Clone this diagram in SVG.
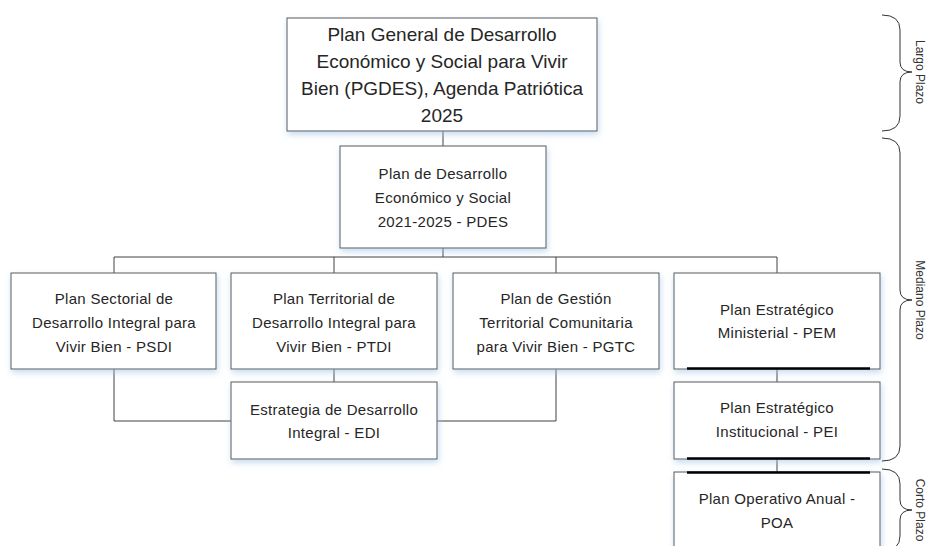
<svg xmlns="http://www.w3.org/2000/svg" width="929" height="546" viewBox="0 0 929 546">
<defs>
<filter id="glow" x="-10%" y="-10%" width="120%" height="125%">
<feDropShadow dx="1" dy="3" stdDeviation="3" flood-color="#9dc3e6" flood-opacity="0.6"/>
</filter>
<style>
.box{fill:#fff;stroke:#595959;stroke-width:1;filter:url(#glow)}
.t{font-family:"Liberation Sans",Arial,sans-serif;fill:#262626;text-anchor:middle}
.big{font-size:19px}
.sm{font-size:15px;letter-spacing:0.3px}
.con{fill:none;stroke:#404040;stroke-width:1}
.thick{stroke:#000;stroke-width:2.5}
.brace{fill:none;stroke:#333;stroke-width:1}
.lab{font-family:"Liberation Sans",Arial,sans-serif;font-size:12px;fill:#333;text-anchor:middle}
</style>
</defs>
<rect width="929" height="546" fill="#fff"/>
<g id="connectors">
<path class="con" d="M443 131V146"/>
<path class="con" d="M443 248V257M114 257H777M114 257V273M334 257V273M556 257V273M777 257V273"/>
<path class="con" d="M334 369V382M114 369V421H231M556 369V421H437"/>
<path class="con" d="M777 369V382M777 459V472"/>
</g>
<g id="n-pgdes">
<rect class="box" x="287" y="18" width="310" height="113"/>
<text class="t big" x="442" y="41">Plan General de Desarrollo</text>
<text class="t big" x="442" y="68">Económico y Social para Vivir</text>
<text class="t big" x="442" y="95">Bien (PGDES), Agenda Patriótica</text>
<text class="t big" x="442" y="122">2025</text>
</g>
<g id="n-pdes">
<rect class="box" x="340" y="146" width="206" height="102"/>
<text class="t sm" x="443" y="179">Plan de Desarrollo</text>
<text class="t sm" x="443" y="203">Económico y Social</text>
<text class="t sm" x="443" y="227">2021-2025 - PDES</text>
</g>
<g id="n-psdi">
<rect class="box" x="11" y="273" width="205" height="96"/>
<text class="t sm" x="114" y="304">Plan Sectorial de</text>
<text class="t sm" x="114" y="328">Desarrollo Integral para</text>
<text class="t sm" x="114" y="352">Vivir Bien - PSDI</text>
</g>
<g id="n-ptdi">
<rect class="box" x="231" y="273" width="206" height="96"/>
<text class="t sm" x="334" y="304">Plan Territorial de</text>
<text class="t sm" x="334" y="328">Desarrollo Integral para</text>
<text class="t sm" x="334" y="352">Vivir Bien - PTDI</text>
</g>
<g id="n-pgtc">
<rect class="box" x="453" y="273" width="206" height="96"/>
<text class="t sm" x="556" y="304">Plan de Gestión</text>
<text class="t sm" x="556" y="328">Territorial Comunitaria</text>
<text class="t sm" x="556" y="352">para Vivir Bien - PGTC</text>
</g>
<g id="n-pem">
<rect class="box" x="674" y="273" width="206" height="96"/>
<text class="t sm" x="777" y="315">Plan Estratégico</text>
<text class="t sm" x="777" y="338">Ministerial - PEM</text>
<path class="thick" d="M687 368.5H870"/>
</g>
<g id="n-edi">
<rect class="box" x="231" y="382" width="206" height="77"/>
<text class="t sm" x="334" y="415">Estrategia de Desarrollo</text>
<text class="t sm" x="334" y="438">Integral - EDI</text>
</g>
<g id="n-pei">
<rect class="box" x="674" y="382" width="206" height="77"/>
<text class="t sm" x="777" y="413">Plan Estratégico</text>
<text class="t sm" x="777" y="437">Institucional - PEI</text>
<path class="thick" d="M687 458.5H870"/>
</g>
<g id="n-poa">
<rect class="box" x="674" y="472" width="206" height="80"/>
<path class="thick" d="M687 472.5H870"/>
<text class="t sm" x="777" y="504">Plan Operativo Anual -</text>
<text class="t sm" x="777" y="528">POA</text>
</g>
<g id="braces">
<path class="brace" d="M882 15Q900 15 900 30V62Q900 72 912 72Q900 72 900 82V116Q900 131 882 131"/>
<path class="brace" d="M882 138Q900 138 900 153V290Q900 300 912 300Q900 300 900 310V446Q900 461 882 461"/>
<path class="brace" d="M882 469Q900 469 900 484V500Q900 510 912 510Q900 510 900 520V536Q900 551 882 551"/>
<text class="lab" transform="translate(916 72) rotate(90)">Largo Plazo</text>
<text class="lab" transform="translate(916 300) rotate(90)">Mediano Plazo</text>
<text class="lab" transform="translate(916 510) rotate(90)">Corto Plazo</text>
</g>
</svg>
